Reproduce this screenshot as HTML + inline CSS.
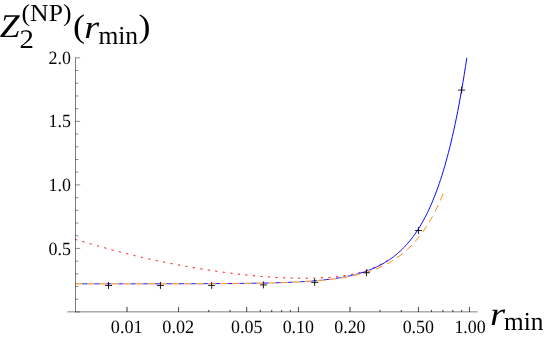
<!DOCTYPE html>
<html><head><meta charset="utf-8"><style>
html,body{margin:0;padding:0;background:#fff;}
svg{display:block;font-family:"Liberation Serif",serif;}
text{text-rendering:geometricPrecision;}
</style></head><body>
<svg width="545" height="338" viewBox="0 0 545 338">
<rect width="545" height="338" fill="#fff"/>
<g fill="none" stroke-width="0.96">
<path d="M75.10,239.40 L76.67,239.84 L78.24,240.29 L79.81,240.73 L81.38,241.18 L82.95,241.63 L84.52,242.08 L86.09,242.54 L87.66,242.99 L89.23,243.44 L90.80,243.89 L92.37,244.34 L93.94,244.79 L95.51,245.24 L97.08,245.69 L98.65,246.14 L100.22,246.58 L101.79,247.02 L103.36,247.46 L104.93,247.90 L106.50,248.34 L108.07,248.77 L109.64,249.20 L111.21,249.62 L112.78,250.05 L114.35,250.47 L115.92,250.89 L117.49,251.30 L119.06,251.71 L120.63,252.12 L122.20,252.53 L123.77,252.93 L125.34,253.33 L126.91,253.73 L128.47,254.12 L130.04,254.51 L131.61,254.89 L133.18,255.27 L134.75,255.65 L136.32,256.03 L137.89,256.40 L139.46,256.77 L141.03,257.14 L142.60,257.50 L144.17,257.86 L145.74,258.21 L147.31,258.57 L148.88,258.92 L150.45,259.26 L152.02,259.61 L153.59,259.95 L155.16,260.29 L156.73,260.62 L158.30,260.95 L159.87,261.28 L161.44,261.61 L163.01,261.93 L164.58,262.25 L166.15,262.57 L167.72,262.88 L169.29,263.19 L170.86,263.50 L172.43,263.80 L174.00,264.11 L175.57,264.41 L177.14,264.70 L178.71,265.00 L180.28,265.29 L181.85,265.58 L183.42,265.87 L184.99,266.15 L186.56,266.43 L188.13,266.71 L189.70,266.98 L191.27,267.26 L192.84,267.53 L194.41,267.79 L195.98,268.06 L197.55,268.32 L199.12,268.58 L200.69,268.83 L202.26,269.09 L203.83,269.34 L205.40,269.59 L206.97,269.83 L208.54,270.07 L210.11,270.31 L211.68,270.55 L213.25,270.78 L214.82,271.01 L216.39,271.24 L217.96,271.46 L219.53,271.69 L221.10,271.90 L222.67,272.12 L224.24,272.33 L225.81,272.54 L227.38,272.75 L228.95,272.95 L230.52,273.15 L232.08,273.35 L233.65,273.54 L235.22,273.73 L236.79,273.92 L238.36,274.10 L239.93,274.28 L241.50,274.46 L243.07,274.63 L244.64,274.80 L246.21,274.97 L247.78,275.13 L249.35,275.29 L250.92,275.44 L252.49,275.60 L254.06,275.74 L255.63,275.89 L257.20,276.03 L258.77,276.17 L260.34,276.30 L261.91,276.43 L263.48,276.56 L265.05,276.68 L266.62,276.80 L268.19,276.91 L269.76,277.02 L271.33,277.12 L272.90,277.23 L274.47,277.32 L276.04,277.42 L277.61,277.51 L279.18,277.59 L280.75,277.67 L282.32,277.75 L283.89,277.82 L285.46,277.88 L287.03,277.95 L288.60,278.00 L290.17,278.06 L291.74,278.10 L293.31,278.15 L294.88,278.18 L296.45,278.22 L298.02,278.24 L299.59,278.26 L301.16,278.28 L302.73,278.29 L304.30,278.29 L305.87,278.29 L307.44,278.28 L309.01,278.27 L310.58,278.25 L312.15,278.22 L313.72,278.18 L315.29,278.14 L316.86,278.09 L318.43,278.04 L320.00,277.97 L321.57,277.90 L323.14,277.82 L324.71,277.73 L326.28,277.63 L327.85,277.52 L329.42,277.40 L330.99,277.27 L332.56,277.13 L334.13,276.98 L335.69,276.82 L337.26,276.64 L338.83,276.45 L340.40,276.25 L341.97,276.04 L343.54,275.81 L345.11,275.57 L346.68,275.31 L348.25,275.04 L349.82,274.75 L351.39,274.44 L352.96,274.11 L354.53,273.77 L356.10,273.40 L357.67,273.02 L359.24,272.61 L360.81,272.18 L362.38,271.72 L363.95,271.24 L365.52,270.73 L367.09,270.20 L368.66,269.64 L370.23,269.05 L371.80,268.43 L373.37,267.77 L374.94,267.09 L376.51,266.36 L378.08,265.60 L379.65,264.80 L381.22,263.97 L382.79,263.09 L384.36,262.16 L385.93,261.19 L387.50,260.18" stroke="#ff0000" stroke-dasharray="2.2 5.37"/>
<mask id="m" maskUnits="userSpaceOnUse" x="0" y="0" width="545" height="338"><rect width="545" height="338" fill="#fff"/><path d="M75.27,283.82 L77.12,283.82 L78.97,283.81 L80.82,283.81 L82.67,283.81 L84.52,283.81 L86.37,283.81 L88.22,283.81 L90.07,283.81 L91.92,283.81 L93.77,283.81 L95.62,283.81 L97.47,283.81 L99.32,283.81 L101.17,283.81 L103.02,283.81 L104.87,283.81 L106.72,283.81 L108.57,283.81 L110.42,283.81 L112.27,283.81 L114.12,283.81 L115.97,283.81 L117.82,283.81 L119.67,283.81 L121.52,283.80 L123.37,283.80 L125.22,283.80 L127.07,283.80 L128.92,283.80 L130.77,283.80 L132.62,283.80 L134.47,283.80 L136.32,283.80 L138.17,283.80 L140.02,283.79 L141.87,283.79 L143.72,283.79 L145.57,283.79 L147.42,283.79 L149.27,283.79 L151.12,283.79 L152.97,283.78 L154.82,283.78 L156.67,283.78 L158.52,283.78 L160.37,283.78 L162.22,283.77 L164.07,283.77 L165.92,283.77 L167.77,283.77 L169.62,283.76 L171.47,283.76 L173.32,283.76 L175.18,283.75 L177.03,283.75 L178.88,283.75 L180.73,283.74 L182.58,283.74 L184.43,283.73 L186.28,283.73 L188.13,283.73 L189.98,283.72 L191.83,283.72 L193.68,283.71 L195.53,283.70 L197.38,283.70 L199.23,283.69 L201.08,283.69 L202.93,283.68 L204.78,283.67 L206.63,283.66 L208.48,283.66 L210.33,283.65 L212.18,283.64 L214.03,283.63 L215.88,283.62 L217.73,283.61 L219.58,283.60 L221.43,283.59 L223.28,283.58 L225.13,283.56 L226.98,283.55 L228.83,283.54 L230.68,283.52 L232.53,283.51 L234.38,283.49 L236.23,283.48 L238.08,283.46 L239.93,283.44 L241.78,283.42 L243.63,283.40 L245.48,283.38 L247.33,283.36 L249.18,283.33 L251.03,283.31 L252.88,283.28 L254.73,283.25 L256.58,283.22 L258.43,283.19 L260.28,283.16 L262.13,283.13 L263.98,283.09 L265.83,283.06 L267.68,283.02 L269.53,282.98 L271.38,282.93 L273.23,282.89 L275.08,282.84 L276.93,282.79 L278.78,282.74 L280.63,282.68 L282.48,282.63 L284.33,282.56 L286.18,282.50 L288.04,282.43 L289.89,282.36 L291.74,282.29 L293.59,282.21 L295.44,282.13 L297.29,282.04 L299.14,281.95 L300.99,281.86 L302.84,281.76 L304.69,281.65 L306.54,281.54 L308.39,281.42 L310.24,281.30 L312.09,281.17 L313.94,281.04 L315.79,280.89 L317.64,280.75 L319.49,280.59 L321.34,280.42 L323.19,280.25 L325.04,280.07 L326.89,279.88 L328.74,279.68 L330.59,279.46 L332.44,279.24 L334.29,279.01 L336.14,278.76 L337.99,278.50 L339.84,278.23 L341.69,277.95 L343.54,277.65 L345.39,277.33 L347.24,277.00 L349.09,276.65 L350.94,276.29 L352.79,275.90 L354.64,275.50 L356.49,275.08 L358.34,274.63 L360.19,274.16 L362.04,273.67 L363.89,273.15 L365.74,272.61 L367.59,272.03 L369.44,271.43 L371.29,270.80 L373.14,270.14 L374.99,269.44 L376.84,268.70 L378.69,267.93 L380.54,267.12 L382.39,266.27 L384.24,265.37 L386.09,264.43 L387.94,263.44 L389.79,262.40 L391.64,261.31 L393.49,260.16 L395.34,258.96 L397.19,257.69 L399.04,256.35 L400.89,254.95 L402.75,253.48 L404.60,251.93 L406.45,250.30 L408.30,248.59 L410.15,246.80 L412.00,244.91 L413.85,242.92 L415.70,240.83 L417.55,238.64 L419.40,236.33 L421.25,233.91 L423.10,231.36 L424.95,228.69 L426.80,225.87 L428.65,222.92 L430.50,219.81 L432.35,216.54 L434.20,213.11 L436.05,209.50 L437.90,205.71 L439.75,201.72 L441.60,197.54 L443.45,193.13" stroke="#000" stroke-width="1.8" stroke-dasharray="7 5.085" fill="none"/></mask>
<path d="M75.27,283.82 L76.58,283.82 L77.89,283.81 L79.19,283.81 L80.50,283.81 L81.81,283.81 L83.12,283.81 L84.43,283.81 L85.74,283.81 L87.05,283.81 L88.36,283.81 L89.67,283.81 L90.98,283.81 L92.29,283.81 L93.60,283.81 L94.91,283.81 L96.22,283.81 L97.53,283.81 L98.84,283.81 L100.15,283.81 L101.46,283.81 L102.77,283.81 L104.08,283.81 L105.38,283.81 L106.69,283.81 L108.00,283.81 L109.31,283.81 L110.62,283.81 L111.93,283.81 L113.24,283.81 L114.55,283.81 L115.86,283.81 L117.17,283.81 L118.48,283.80 L119.79,283.80 L121.10,283.80 L122.41,283.80 L123.72,283.80 L125.03,283.80 L126.34,283.80 L127.65,283.80 L128.96,283.80 L130.27,283.80 L131.57,283.80 L132.88,283.80 L134.19,283.80 L135.50,283.80 L136.81,283.80 L138.12,283.79 L139.43,283.79 L140.74,283.79 L142.05,283.79 L143.36,283.79 L144.67,283.79 L145.98,283.79 L147.29,283.79 L148.60,283.79 L149.91,283.78 L151.22,283.78 L152.53,283.78 L153.84,283.78 L155.15,283.78 L156.46,283.78 L157.77,283.78 L159.07,283.78 L160.38,283.77 L161.69,283.77 L163.00,283.77 L164.31,283.77 L165.62,283.77 L166.93,283.76 L168.24,283.76 L169.55,283.76 L170.86,283.76 L172.17,283.76 L173.48,283.75 L174.79,283.75 L176.10,283.75 L177.41,283.75 L178.72,283.74 L180.03,283.74 L181.34,283.74 L182.65,283.74 L183.96,283.73 L185.26,283.73 L186.57,283.73 L187.88,283.72 L189.19,283.72 L190.50,283.72 L191.81,283.71 L193.12,283.71 L194.43,283.70 L195.74,283.70 L197.05,283.70 L198.36,283.69 L199.67,283.69 L200.98,283.68 L202.29,283.68 L203.60,283.67 L204.91,283.67 L206.22,283.66 L207.53,283.65 L208.84,283.65 L210.15,283.64 L211.45,283.64 L212.76,283.63 L214.07,283.62 L215.38,283.62 L216.69,283.61 L218.00,283.60 L219.31,283.59 L220.62,283.58 L221.93,283.58 L223.24,283.57 L224.55,283.56 L225.86,283.55 L227.17,283.54 L228.48,283.53 L229.79,283.52 L231.10,283.51 L232.41,283.50 L233.72,283.48 L235.03,283.47 L236.34,283.46 L237.64,283.45 L238.95,283.43 L240.26,283.42 L241.57,283.40 L242.88,283.39 L244.19,283.37 L245.50,283.36 L246.81,283.34 L248.12,283.32 L249.43,283.31 L250.74,283.29 L252.05,283.27 L253.36,283.25 L254.67,283.23 L255.98,283.21 L257.29,283.18 L258.60,283.16 L259.91,283.14 L261.22,283.11 L262.53,283.09 L263.83,283.06 L265.14,283.03 L266.45,283.00 L267.76,282.97 L269.07,282.94 L270.38,282.91 L271.69,282.88 L273.00,282.84 L274.31,282.81 L275.62,282.77 L276.93,282.73 L278.24,282.69 L279.55,282.65 L280.86,282.61 L282.17,282.57 L283.48,282.52 L284.79,282.47 L286.10,282.43 L287.41,282.38 L288.72,282.32 L290.03,282.27 L291.33,282.21 L292.64,282.15 L293.95,282.09 L295.26,282.03 L296.57,281.97 L297.88,281.90 L299.19,281.83 L300.50,281.76 L301.81,281.68 L303.12,281.60 L304.43,281.52 L305.74,281.44 L307.05,281.35 L308.36,281.26 L309.67,281.17 L310.98,281.07 L312.29,280.97 L313.60,280.87 L314.91,280.76 L316.22,280.65 L317.52,280.53 L318.83,280.41 L320.14,280.29 L321.45,280.16 L322.76,280.02 L324.07,279.88 L325.38,279.74 L326.69,279.59 L328.00,279.44 L329.31,279.28 L330.62,279.11 L331.93,278.94 L333.24,278.76 L334.55,278.57 L335.86,278.38 L337.17,278.18 L338.48,277.97 L339.79,277.76 L341.10,277.53 L342.41,277.30 L343.71,277.06 L345.02,276.81 L346.33,276.56 L347.64,276.29 L348.95,276.01 L350.26,275.72 L351.57,275.42 L352.88,275.11 L354.19,274.79 L355.50,274.46 L356.81,274.11 L358.12,273.75 L359.43,273.38 L360.74,273.00 L362.05,272.59 L363.36,272.18 L364.67,271.75 L365.98,271.30 L367.29,270.83 L368.60,270.35 L369.90,269.85 L371.21,269.33 L372.52,268.79 L373.83,268.23 L375.14,267.65 L376.45,267.05 L377.76,266.42 L379.07,265.78 L380.38,265.10 L381.69,264.40 L383.00,263.68 L384.31,262.92 L385.62,262.14 L386.93,261.33 L388.24,260.48 L389.55,259.61 L390.86,258.70 L392.17,257.76 L393.48,256.77 L394.79,255.76 L396.09,254.70 L397.40,253.60 L398.71,252.46 L400.02,251.28 L401.33,250.05 L402.64,248.77 L403.95,247.45 L405.26,246.07 L406.57,244.64 L407.88,243.15 L409.19,241.61 L410.50,240.00 L411.81,238.34 L413.12,236.60 L414.43,234.81 L415.74,232.94 L417.05,230.99 L418.36,228.97 L419.67,226.88 L420.98,224.70 L422.29,222.43 L423.59,220.08 L424.90,217.63 L426.21,215.08 L427.52,212.44 L428.83,209.69 L430.14,206.83 L431.45,203.86 L432.76,200.77 L434.07,197.56 L435.38,194.22 L436.69,190.74 L438.00,187.13 L439.31,183.37 L440.62,179.47 L441.93,175.40 L443.24,171.17 L444.55,166.78 L445.86,162.20 L447.17,157.44 L448.48,152.49 L449.78,147.34 L451.09,141.98 L452.40,136.40 L453.71,130.60 L455.02,124.56 L456.33,118.27 L457.64,111.73 L458.95,104.91 L460.26,97.82 L461.57,90.44 L462.88,82.76 L464.19,74.76 L465.50,66.43 L466.81,57.75" stroke="#0000ff" mask="url(#m)"/>
<path d="M75.27,283.82 L77.12,283.82 L78.97,283.81 L80.82,283.81 L82.67,283.81 L84.52,283.81 L86.37,283.81 L88.22,283.81 L90.07,283.81 L91.92,283.81 L93.77,283.81 L95.62,283.81 L97.47,283.81 L99.32,283.81 L101.17,283.81 L103.02,283.81 L104.87,283.81 L106.72,283.81 L108.57,283.81 L110.42,283.81 L112.27,283.81 L114.12,283.81 L115.97,283.81 L117.82,283.81 L119.67,283.81 L121.52,283.80 L123.37,283.80 L125.22,283.80 L127.07,283.80 L128.92,283.80 L130.77,283.80 L132.62,283.80 L134.47,283.80 L136.32,283.80 L138.17,283.80 L140.02,283.79 L141.87,283.79 L143.72,283.79 L145.57,283.79 L147.42,283.79 L149.27,283.79 L151.12,283.79 L152.97,283.78 L154.82,283.78 L156.67,283.78 L158.52,283.78 L160.37,283.78 L162.22,283.77 L164.07,283.77 L165.92,283.77 L167.77,283.77 L169.62,283.76 L171.47,283.76 L173.32,283.76 L175.18,283.75 L177.03,283.75 L178.88,283.75 L180.73,283.74 L182.58,283.74 L184.43,283.73 L186.28,283.73 L188.13,283.73 L189.98,283.72 L191.83,283.72 L193.68,283.71 L195.53,283.70 L197.38,283.70 L199.23,283.69 L201.08,283.69 L202.93,283.68 L204.78,283.67 L206.63,283.66 L208.48,283.66 L210.33,283.65 L212.18,283.64 L214.03,283.63 L215.88,283.62 L217.73,283.61 L219.58,283.60 L221.43,283.59 L223.28,283.58 L225.13,283.56 L226.98,283.55 L228.83,283.54 L230.68,283.52 L232.53,283.51 L234.38,283.49 L236.23,283.48 L238.08,283.46 L239.93,283.44 L241.78,283.42 L243.63,283.40 L245.48,283.38 L247.33,283.36 L249.18,283.33 L251.03,283.31 L252.88,283.28 L254.73,283.25 L256.58,283.22 L258.43,283.19 L260.28,283.16 L262.13,283.13 L263.98,283.09 L265.83,283.06 L267.68,283.02 L269.53,282.98 L271.38,282.93 L273.23,282.89 L275.08,282.84 L276.93,282.79 L278.78,282.74 L280.63,282.68 L282.48,282.63 L284.33,282.56 L286.18,282.50 L288.04,282.43 L289.89,282.36 L291.74,282.29 L293.59,282.21 L295.44,282.13 L297.29,282.04 L299.14,281.95 L300.99,281.86 L302.84,281.76 L304.69,281.65 L306.54,281.54 L308.39,281.42 L310.24,281.30 L312.09,281.17 L313.94,281.04 L315.79,280.89 L317.64,280.75 L319.49,280.59 L321.34,280.42 L323.19,280.25 L325.04,280.07 L326.89,279.88 L328.74,279.68 L330.59,279.46 L332.44,279.24 L334.29,279.01 L336.14,278.76 L337.99,278.50 L339.84,278.23 L341.69,277.95 L343.54,277.65 L345.39,277.33 L347.24,277.00 L349.09,276.65 L350.94,276.29 L352.79,275.90 L354.64,275.50 L356.49,275.08 L358.34,274.63 L360.19,274.16 L362.04,273.67 L363.89,273.15 L365.74,272.61 L367.59,272.03 L369.44,271.43 L371.29,270.80 L373.14,270.14 L374.99,269.44 L376.84,268.70 L378.69,267.93 L380.54,267.12 L382.39,266.27 L384.24,265.37 L386.09,264.43 L387.94,263.44 L389.79,262.40 L391.64,261.31 L393.49,260.16 L395.34,258.96 L397.19,257.69 L399.04,256.35 L400.89,254.95 L402.75,253.48 L404.60,251.93 L406.45,250.30 L408.30,248.59 L410.15,246.80 L412.00,244.91 L413.85,242.92 L415.70,240.83 L417.55,238.64 L419.40,236.33 L421.25,233.91 L423.10,231.36 L424.95,228.69 L426.80,225.87 L428.65,222.92 L430.50,219.81 L432.35,216.54 L434.20,213.11 L436.05,209.50 L437.90,205.71 L439.75,201.72 L441.60,197.54 L443.45,193.13" stroke="#ff8000" stroke-dasharray="7 5.085"/>
</g>
<g stroke="#000" stroke-width="0.51" fill="none">
<line x1="67.3" y1="311.87" x2="477.8" y2="311.87"/>
<line x1="75.5" y1="312.12" x2="75.5" y2="57.6"/>
</g>
<g stroke="#000" stroke-width="0.45" fill="none">
<line x1="127.00" y1="311.87" x2="127.00" y2="306.92"/>
<line x1="127.00" y1="311.87" x2="127.00" y2="306.92"/>
<line x1="178.55" y1="311.87" x2="178.55" y2="306.92"/>
<line x1="178.55" y1="311.87" x2="178.55" y2="306.92"/>
<line x1="246.65" y1="311.87" x2="246.65" y2="306.92"/>
<line x1="246.65" y1="311.87" x2="246.65" y2="306.92"/>
<line x1="298.45" y1="311.87" x2="298.45" y2="306.92"/>
<line x1="298.45" y1="311.87" x2="298.45" y2="306.92"/>
<line x1="350.00" y1="311.87" x2="350.00" y2="306.92"/>
<line x1="350.00" y1="311.87" x2="350.00" y2="306.92"/>
<line x1="418.45" y1="311.87" x2="418.45" y2="306.92"/>
<line x1="418.45" y1="311.87" x2="418.45" y2="306.92"/>
<line x1="469.47" y1="311.87" x2="469.47" y2="306.92"/>
<line x1="469.47" y1="311.87" x2="469.47" y2="306.92"/>
<line x1="208.70" y1="311.87" x2="208.70" y2="309.92"/>
<line x1="230.09" y1="311.87" x2="230.09" y2="309.92"/>
<line x1="260.25" y1="311.87" x2="260.25" y2="309.92"/>
<line x1="271.71" y1="311.87" x2="271.71" y2="309.92"/>
<line x1="281.64" y1="311.87" x2="281.64" y2="309.92"/>
<line x1="290.40" y1="311.87" x2="290.40" y2="309.92"/>
<line x1="379.92" y1="311.87" x2="379.92" y2="309.92"/>
<line x1="401.31" y1="311.87" x2="401.31" y2="309.92"/>
<line x1="431.47" y1="311.87" x2="431.47" y2="309.92"/>
<line x1="442.93" y1="311.87" x2="442.93" y2="309.92"/>
<line x1="452.86" y1="311.87" x2="452.86" y2="309.92"/>
<line x1="461.62" y1="311.87" x2="461.62" y2="309.92"/>
<line x1="208.70" y1="311.87" x2="208.70" y2="309.92"/>
<line x1="230.09" y1="311.87" x2="230.09" y2="309.92"/>
<line x1="260.25" y1="311.87" x2="260.25" y2="309.92"/>
<line x1="271.71" y1="311.87" x2="271.71" y2="309.92"/>
<line x1="281.64" y1="311.87" x2="281.64" y2="309.92"/>
<line x1="290.40" y1="311.87" x2="290.40" y2="309.92"/>
<line x1="379.92" y1="311.87" x2="379.92" y2="309.92"/>
<line x1="401.31" y1="311.87" x2="401.31" y2="309.92"/>
<line x1="431.47" y1="311.87" x2="431.47" y2="309.92"/>
<line x1="442.93" y1="311.87" x2="442.93" y2="309.92"/>
<line x1="452.86" y1="311.87" x2="452.86" y2="309.92"/>
<line x1="461.62" y1="311.87" x2="461.62" y2="309.92"/>
<line x1="75.5" y1="311.95" x2="80.2" y2="311.95"/>
<line x1="75.5" y1="299.25" x2="78.4" y2="299.25"/>
<line x1="75.5" y1="286.54" x2="78.4" y2="286.54"/>
<line x1="75.5" y1="273.83" x2="78.4" y2="273.83"/>
<line x1="75.5" y1="261.13" x2="78.4" y2="261.13"/>
<line x1="75.5" y1="248.42" x2="80.2" y2="248.42"/>
<line x1="75.5" y1="235.72" x2="78.4" y2="235.72"/>
<line x1="75.5" y1="223.01" x2="78.4" y2="223.01"/>
<line x1="75.5" y1="210.31" x2="78.4" y2="210.31"/>
<line x1="75.5" y1="197.60" x2="78.4" y2="197.60"/>
<line x1="75.5" y1="184.90" x2="80.2" y2="184.90"/>
<line x1="75.5" y1="172.19" x2="78.4" y2="172.19"/>
<line x1="75.5" y1="159.49" x2="78.4" y2="159.49"/>
<line x1="75.5" y1="146.78" x2="78.4" y2="146.78"/>
<line x1="75.5" y1="134.08" x2="78.4" y2="134.08"/>
<line x1="75.5" y1="121.38" x2="80.2" y2="121.38"/>
<line x1="75.5" y1="108.67" x2="78.4" y2="108.67"/>
<line x1="75.5" y1="95.97" x2="78.4" y2="95.97"/>
<line x1="75.5" y1="83.26" x2="78.4" y2="83.26"/>
<line x1="75.5" y1="70.56" x2="78.4" y2="70.56"/>
<line x1="75.5" y1="57.85" x2="80.2" y2="57.85"/>
</g>
<path d="M105.00,285.42h7M108.50,281.92v7M156.93,285.45h7M160.43,281.95v7M208.15,285.40h7M211.65,281.90v7M259.90,284.90h7M263.40,281.40v7M311.16,282.40h7M314.66,278.90v7M362.96,272.75h7M366.46,269.25v7M414.90,230.55h7M418.40,227.05v7M458.12,90.10h7M461.62,86.60v7" stroke="#000" stroke-width="0.88" fill="none"/>
<g font-size="18.2px" fill="#000" opacity="0.999">
<text transform="translate(126.71,333.4) scale(1.0,1.03)" text-anchor="middle">0.01</text>
<text transform="translate(178.25,333.4) scale(1.0,1.03)" text-anchor="middle">0.02</text>
<text transform="translate(246.79,333.4) scale(0.985,1.03)" text-anchor="middle">0.05</text>
<text transform="translate(298.33,333.4) scale(0.985,1.03)" text-anchor="middle">0.10</text>
<text transform="translate(349.87,333.4) scale(0.985,1.03)" text-anchor="middle">0.20</text>
<text transform="translate(418.31,333.4) scale(0.985,1.03)" text-anchor="middle">0.50</text>
<text transform="translate(470.05,333.4) scale(0.985,1.03)" text-anchor="middle">1.00</text>
<text transform="translate(70.85,254.52) scale(0.985,1.03)" text-anchor="end">0.5</text>
<text transform="translate(70.85,191.30) scale(0.985,1.03)" text-anchor="end">1.0</text>
<text transform="translate(70.85,127.38) scale(0.985,1.03)" text-anchor="end">1.5</text>
<text transform="translate(70.85,64.25) scale(0.985,1.03)" text-anchor="end">2.0</text>
</g>
<g fill="#000" opacity="0.999">
<text transform="translate(-0.3,37.2) scale(1.02,0.949)" font-size="35px" font-style="italic">Z</text>
<text transform="translate(19.4,47.6) scale(1.2,1.113)" font-size="24px">2</text>
<text transform="translate(21.56,21.2) scale(1.069,1.02)" font-size="24px">(NP)</text>
<text transform="translate(73,37.4) scale(1.03,0.933)" font-size="35px">(</text>
<text transform="translate(84.3,38.2) scale(1.095,0.936)" font-size="35px" font-style="italic">r</text>
<text transform="translate(98.43,44) scale(1.0625,1.084)" font-size="24px">min</text>
<text transform="translate(138.6,37.4) scale(1.03,0.933)" font-size="35px">)</text>
<text transform="translate(490.1,324.5) scale(1.108,0.944)" font-size="35px" font-style="italic">r</text>
<text transform="translate(504.1,329.6) scale(1.054,1.084)" font-size="24px">min</text>
</g>
</svg>
</body></html>
